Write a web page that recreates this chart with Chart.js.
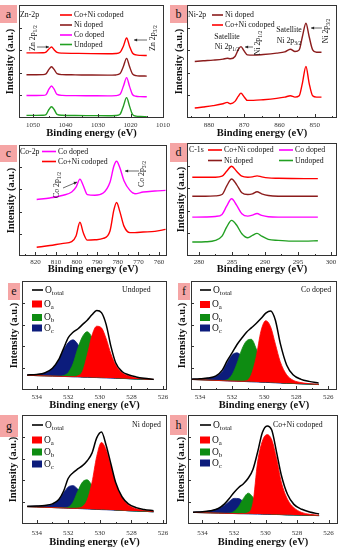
<!DOCTYPE html>
<html>
<head>
<meta charset="utf-8">
<title>XPS spectra</title>
<script src="https://cdn.jsdelivr.net/npm/chart.js@4.4.1/dist/chart.umd.min.js"></script>
<style>
  html, body { margin: 0; padding: 0; background: #fff; }
  #fig { position: relative; width: 341px; height: 550px; overflow: hidden; }
  #fig canvas { position: absolute; }
  .tag { position: absolute; background: #f5a5a5; color: #111; font: 12px 'Liberation Serif', serif; text-align: center; }
</style>
</head>
<body>
<div id="fig"></div>
<script>
// ---- Zn-2p (panel a) ----
const znEnergy = [1052, 1049, 1047, 1046, 1045.1, 1044.3, 1043.5, 1042.6, 1041, 1037, 1032, 1027, 1024.5, 1023.2, 1022.2, 1021.2, 1020.3, 1019.4, 1018.3, 1017, 1015]
const znCoNi = [57.6, 57.6, 57.7, 58.3, 61, 62.8, 60.5, 58, 57.4, 57.2, 57, 56.9, 57.1, 58.2, 63.5, 70.8, 63.5, 57.5, 55.8, 55.4, 55.3]
const znNi = [38.3, 38.3, 38.4, 39.0, 43, 45.4, 43, 39.2, 38.4, 38.2, 38.0, 37.9, 38.1, 39.3, 45.5, 52.8, 45.5, 39, 37.5, 37.2, 37.1]
const znCo = [19.9, 19.9, 20, 20.6, 25.5, 28.3, 25.5, 20.8, 20, 19.8, 19.7, 19.6, 19.8, 21, 28, 35.7, 28, 20.8, 19.2, 18.9, 18.8]
const znUndoped = [2.3, 2.3, 2.4, 3.0, 7.5, 10, 7.5, 3.2, 2.4, 2.2, 2.1, 2.0, 2.2, 3.4, 10.5, 18, 10.5, 3.2, 1.6, 1.3, 1.2]
const znTicks = [1050, 1040, 1030, 1020, 1010]

// ---- Ni-2p (panel b) ----
const niEnergy = [884, 881.6, 878.8, 876, 874.8, 873.9, 872.6, 871.7, 870.9, 870.1, 869.1, 867.4, 864.6, 860.8, 858.5, 856.9, 855.6, 854.4, 853.5, 852.5, 851.6, 850.6, 849.5, 848.1]
const niNi = [50.0, 50.6, 51.2, 52.1, 52.9, 52.4, 54.4, 60.3, 63.2, 59.7, 55.9, 55.6, 56.2, 57.4, 58.5, 60.9, 58.8, 60.3, 72.1, 83.8, 72.1, 60.3, 58.2, 58.2]
const niCoNi = [8.8, 9.7, 10.9, 12.6, 13.8, 12.6, 14.7, 19.1, 22, 19.1, 15.6, 15.6, 16.2, 17.4, 18.5, 19.7, 18.5, 19.7, 30.9, 45.6, 30.9, 19.7, 18.5, 18.5]
const niTicks = [880, 870, 860, 850]

// ---- Co-2p (panel c) ----
const coEnergy = [819.4, 813, 806.5, 802.4, 800.3, 798.4, 796.8, 794.8, 791.1, 787.1, 783.8, 781.9, 780.6, 779, 777, 774.1, 771.7, 767.7, 762, 756.8]
const coCo = [50.9, 52.3, 54.7, 57.6, 62, 69.3, 63.5, 55.3, 54.7, 56.7, 66.4, 81, 85.4, 79.5, 67.8, 59.1, 56.1, 57.6, 58.5, 59.1]
const coCoNi = [7.9, 9.4, 11.4, 12.9, 18.1, 30.4, 21.1, 14.3, 14.6, 15.8, 22.5, 41.5, 48.2, 40, 26.9, 21.1, 21.1, 21.6, 22.2, 24]
const coTicks = [820, 810, 800, 790, 780, 770, 760]

// ---- C-1s (panel d) ----
const cEnergy = [279, 281, 282.5, 283.5, 284.2, 284.95, 285.7, 286.5, 287.4, 288.1, 288.8, 289.5, 290.5, 292, 294, 296, 298]
const cCoNi = [69.7, 69.7, 69.7, 70.6, 75, 79.4, 75, 70.6, 69.7, 70, 70.9, 70, 69.1, 68.8, 68.6, 68.5, 68.5]
const cNi = [52.9, 52.9, 53.2, 54.4, 61.8, 68.2, 63.2, 55.9, 54.4, 55, 56.8, 55, 53.5, 52.9, 52.9, 52.9, 52.9]
const cCo = [34.4, 34.5, 35, 36.8, 44.1, 50.6, 45, 37.4, 35.3, 36.2, 37.6, 35.9, 34.7, 34.4, 34.4, 34.4, 34.4]
const cUndoped = [12.4, 12.6, 13.8, 17.6, 25.6, 31.5, 27.4, 19.7, 16.2, 18.2, 20, 17.6, 14.7, 13.8, 13.2, 13.2, 13.5]
const cTicks = [280, 285, 290, 295, 300]

// ---- O-1s fits (panels e-h) ----
const oEnergy = [534.6, 534.0, 533.5, 533.0, 532.6, 532.3, 532.0, 531.7, 531.4, 531.1, 530.8, 530.5, 530.2, 529.9, 529.6, 529.3, 529.0, 528.6, 528.2, 527.7, 527.2, 526.6]
const oTicks = [534, 532, 530, 528, 526]

const oUndTotal = [13.8, 14.3, 15.6, 20, 28, 38, 48, 53, 56, 60, 64, 69, 73, 71, 60, 40, 25, 17, 14, 12, 10.8, 9.9]
const oUndA = [13.5, 13.2, 13.0, 12.8, 12.6, 12.4, 12.3, 12.3, 13, 17, 32, 50, 58.5, 57, 47, 33, 23, 16, 13, 11, 10.2, 9.7]
const oUndB = [13.5, 13.2, 13.0, 12.8, 12.7, 13.2, 16, 24, 38, 49, 53.5, 48, 36, 23, 15.5, 12.5, 11.3, 10.8, 10.4, 10.1, 9.9, 9.6]
const oUndC = [13.8, 14.2, 15.5, 19.8, 27.4, 36.4, 43.5, 46, 42, 34, 26, 19.5, 15.5, 13.4, 12.3, 11.5, 11.1, 10.8, 10.5, 10.1, 9.9, 9.6]
const oUndBg = [13.5, 13.2, 13.0, 12.8, 12.6, 12.4, 12.3, 12.1, 12.0, 11.8, 11.7, 11.5, 11.4, 11.2, 11.1, 10.9, 10.8, 10.6, 10.4, 10.1, 9.9, 9.6]

const oCoTotal = [9.9, 10.3, 11, 13, 18.5, 27, 34, 41.5, 47.5, 53, 57, 61, 65.5, 70.5, 72.5, 64, 43, 23, 14, 9.8, 7.9, 6.3]
const oCoA = [9.7, 9.4, 9.1, 8.8, 8.6, 8.4, 8.2, 8.1, 8.0, 8.5, 14, 30, 54, 63.6, 58, 42, 26, 14, 9, 6.8, 5.8, 5.2]
const oCoB = [9.7, 9.4, 9.1, 8.8, 8.7, 9.5, 14, 24, 37, 45, 46.5, 38, 25, 15, 9.5, 7.5, 6.8, 6.3, 6.0, 5.7, 5.4, 5.0]
const oCoC = [9.9, 10.0, 10.9, 12.5, 17, 25, 32, 34.1, 31, 24, 16.5, 12.4, 9.7, 8.2, 7.4, 6.9, 6.6, 6.2, 6.0, 5.7, 5.4, 5.0]
const oCoBg = [9.7, 9.4, 9.1, 8.8, 8.6, 8.4, 8.2, 8.1, 7.9, 7.7, 7.5, 7.4, 7.2, 7.0, 6.8, 6.6, 6.5, 6.2, 6.0, 5.7, 5.4, 5.0]

const oNiTotal = [16.2, 16.5, 17, 18.5, 22.5, 30, 42, 47, 50.5, 53.5, 58, 65, 79, 84.5, 72, 55, 38, 25, 18.5, 15, 13.3, 12.2]
const oNiA = [15.9, 15.6, 15.3, 15.1, 14.9, 14.7, 14.5, 14.4, 14.6, 16, 22, 38, 62, 74.8, 68, 53, 37, 24, 17.5, 14, 12.4, 11.5]
const oNiB = [15.9, 15.6, 15.3, 15.1, 14.9, 14.8, 15.5, 20, 30, 38.5, 40.5, 35, 26, 19, 15.5, 13.8, 13, 12.6, 12.2, 11.9, 11.6, 11.2]
const oNiC = [16.1, 16.4, 16.8, 18.2, 22, 28.5, 34, 35.2, 32, 27, 22, 18.6, 16.4, 15.0, 14.1, 13.4, 13.0, 12.6, 12.2, 11.9, 11.6, 11.2]
const oNiBg = [15.9, 15.6, 15.3, 15.1, 14.9, 14.7, 14.5, 14.3, 14.2, 14.0, 13.8, 13.6, 13.4, 13.2, 13.1, 12.9, 12.7, 12.5, 12.2, 11.9, 11.6, 11.2]

const oCoNiTotal = [10.8, 11.2, 12.2, 14.2, 18.5, 23.4, 29, 33.5, 37, 42, 50, 66, 84, 90, 86, 66, 45, 27, 18, 13.5, 11, 9.2]
const oCoNiA = [10.6, 10.4, 10.2, 10.0, 9.8, 9.7, 9.6, 9.5, 9.6, 10.5, 19, 57, 76, 82, 77, 60, 38.5, 22.5, 15, 10.6, 8.9, 8.1]
const oCoNiB = [10.6, 10.4, 10.2, 10.0, 9.8, 10.0, 11.5, 16, 23.5, 28.3, 24.5, 17, 12.5, 10.4, 9.4, 8.9, 8.6, 8.4, 8.3, 8.1, 7.9, 7.7]
const oCoNiC = [10.8, 11.2, 12.0, 14.0, 17.3, 20.7, 23.5, 23.3, 20.4, 17.3, 14.4, 12.3, 10.9, 10.0, 9.4, 9.0, 8.75, 8.4, 8.3, 8.1, 7.9, 7.7]
const oCoNiBg = [10.6, 10.4, 10.2, 10.0, 9.8, 9.7, 9.6, 9.5, 9.4, 9.3, 9.2, 9.1, 9.0, 8.9, 8.8, 8.7, 8.6, 8.4, 8.3, 8.1, 7.9, 7.7]

// ---- styles ----
const SERIF = "'Liberation Serif', 'Times New Roman', serif"
const RED = '#ff0000'
const BROWN = '#8b1c1c'
const PINK = '#ff00ff'
const GREEN = '#22a022'
const O_RED = '#ff0000'
const O_GREEN = '#0e8c12'
const O_NAVY = '#0c1c7c'

Chart.defaults.font.family = SERIF

function pts (xs, ys) { return xs.map((x, i) => ({ x, y: ys[i] })) }

function trace (label, xs, ys, color, width = 1.4) {
  return { label, data: pts(xs, ys), borderColor: color, backgroundColor: color, borderWidth: width, pointRadius: 0, cubicInterpolationMode: 'monotone', fill: false }
}

// fitted O 1s: total line, three filled components down to the background (dataset 4)
function oSets (total, a, b, c, bg) {
  return [
    trace('Ototal', oEnergy, total, '#000', 1.5),
    { ...trace('Oa', oEnergy, a, O_RED, 0.8), fill: 4 },
    { ...trace('Ob', oEnergy, b, O_GREEN, 0.8), fill: 4 },
    { ...trace('Oc', oEnergy, c, O_NAVY, 0.8), fill: 4 },
    trace('background', oEnergy, bg, O_NAVY, 1)
  ]
}

function oKeys (x, ys, name, nameX) {
  return [
    { mark: 'line', color: '#000', x, w: 11, y: ys[0], text: 'O_{total}', size: 9.5 },
    { mark: 'box', color: O_RED, x, w: 10, h: 7, y: ys[1], text: 'O_{a}', size: 9.5 },
    { mark: 'box', color: O_GREEN, x, w: 10, h: 7, y: ys[2], text: 'O_{b}', size: 9.5 },
    { mark: 'box', color: O_NAVY, x, w: 10, h: 7, y: ys[3], text: 'O_{c}', size: 9.5 },
    { x: nameX, y: ys[0], text: name }
  ]
}

// text with _{subscript} parts
function rich (ctx, s, x, y, size, align) {
  const parts = s.split(/_\{([^}]*)\}/)
  const fontOf = i => (i % 2 ? size * 0.72 : size) + 'px ' + SERIF
  let w = 0
  parts.forEach((p, i) => { ctx.font = fontOf(i); w += ctx.measureText(p).width })
  let cx = align === 'center' ? x - w / 2 : x
  ctx.textAlign = 'left'
  parts.forEach((p, i) => {
    ctx.font = fontOf(i)
    ctx.fillText(p, cx, i % 2 ? y + size * 0.3 : y)
    cx += ctx.measureText(p).width
  })
}

function arrow (ctx, x1, y1, x2, y2) {
  const a = Math.atan2(y2 - y1, x2 - x1)
  const h = 3.5
  ctx.lineWidth = 0.8
  ctx.beginPath(); ctx.moveTo(x1, y1); ctx.lineTo(x2, y2); ctx.stroke()
  ctx.beginPath(); ctx.moveTo(x2, y2)
  ctx.lineTo(x2 - h * Math.cos(a - 0.45), y2 - h * Math.sin(a - 0.45))
  ctx.lineTo(x2 - h * Math.cos(a + 0.45), y2 - h * Math.sin(a + 0.45))
  ctx.closePath(); ctx.fill()
}

// box around the plot with inward ticks
const framePlugin = {
  id: 'frame',
  afterDatasetsDraw (chart) {
    const { ctx, chartArea: ca, scales: { x, y } } = chart
    ctx.save()
    ctx.strokeStyle = '#333'
    ctx.lineWidth = 1
    ctx.strokeRect(ca.left + 0.5, ca.top + 0.5, ca.width - 1, ca.height - 1)
    ctx.beginPath()
    const vals = x.ticks.map(t => t.value)
    const step = Math.abs(vals[1] - vals[0])
    const lo = Math.min(x.min, x.max)
    const hi = Math.max(x.min, x.max)
    for (let v = Math.min(...vals) - step; v <= Math.max(...vals) + step; v += step / 2) {
      if (v <= lo || v >= hi) continue
      const px = Math.round(x.getPixelForValue(v)) + 0.5
      ctx.moveTo(px, ca.bottom)
      ctx.lineTo(px, ca.bottom - (vals.includes(v) ? 4 : 2))
    }
    y.ticks.forEach(t => {
      if (t.value <= y.min || t.value >= y.max) return
      const py = Math.round(y.getPixelForValue(t.value)) + 0.5
      ctx.moveTo(ca.left, py); ctx.lineTo(ca.left + 3, py)
    })
    ctx.stroke()
    ctx.restore()
  }
}

// legends, labels and arrows, given in page coordinates
const overlayPlugin = {
  id: 'overlay',
  afterDraw (chart, args, o) {
    if (!o.items) return
    const ctx = chart.ctx
    ctx.save()
    ctx.translate(-o.ox, -o.oy)
    ctx.textBaseline = 'middle'
    o.items.forEach(it => {
      ctx.fillStyle = '#222'
      ctx.strokeStyle = '#444'
      if (it.arrow) { arrow(ctx, ...it.arrow); return }
      let tx = it.x
      if (it.mark === 'line') {
        ctx.strokeStyle = it.color; ctx.lineWidth = 1.6
        ctx.beginPath(); ctx.moveTo(it.x, it.y); ctx.lineTo(it.x + it.w, it.y); ctx.stroke()
        tx = it.x + it.w + 2
      } else if (it.mark === 'box') {
        ctx.fillStyle = it.color
        ctx.fillRect(it.x, it.y - it.h / 2, it.w, it.h)
        tx = it.x + it.w + 2
      }
      ctx.fillStyle = '#111'
      ctx.save()
      ctx.translate(tx, it.y)
      if (it.rot) ctx.rotate(-Math.PI / 2)
      rich(ctx, it.text, 0, 0, it.size || 7.8, it.align || (it.rot ? 'center' : 'left'))
      ctx.restore()
    })
    ctx.restore()
  }
}

const PANELS = [
  { tag: 'a', tagBox: [0, 5, 17, 18], box: [0, 0, 170, 140], area: [19, 5, 164, 118], tickY: 125, titleY: 133, yTitleX: 10,
    range: [1009.7, 1054.3], reverse: true, ticks: znTicks,
    sets: [trace('Co+Ni codoped', znEnergy, znCoNi, RED), trace('Ni doped', znEnergy, znNi, BROWN), trace('Co doped', znEnergy, znCo, PINK), trace('Undoped', znEnergy, znUndoped, GREEN)],
    marks: [
      { x: 20, y: 15, text: 'Zn-2p' },
      { mark: 'line', color: RED, x: 60, w: 12, y: 15, text: 'Co+Ni codoped' },
      { mark: 'line', color: BROWN, x: 60, w: 12, y: 25, text: 'Ni doped' },
      { mark: 'line', color: PINK, x: 60, w: 12, y: 35, text: 'Co doped' },
      { mark: 'line', color: GREEN, x: 60, w: 12, y: 44.5, text: 'Undoped' },
      { x: 33, y: 38, rot: true, text: 'Zn 2p_{1/2}' },
      { arrow: [37, 47, 49, 47] },
      { x: 153, y: 38, rot: true, text: 'Zn 2p_{3/2}' },
      { arrow: [147, 40, 134, 40] }
    ] },
  { tag: 'b', tagBox: [170, 5, 17, 18], box: [170, 0, 171, 140], area: [187, 5, 337, 118], tickY: 125, titleY: 133, yTitleX: 179,
    range: [843.7, 886.2], reverse: true, ticks: niTicks,
    sets: [trace('Ni doped', niEnergy, niNi, BROWN), trace('Co+Ni codoped', niEnergy, niCoNi, RED)],
    marks: [
      { x: 188, y: 15, text: 'Ni-2p' },
      { mark: 'line', color: BROWN, x: 212, w: 11, y: 15, text: 'Ni doped' },
      { mark: 'line', color: RED, x: 212, w: 11, y: 25, text: 'Co+Ni codoped' },
      { x: 227, y: 37, text: 'Satellite', align: 'center' },
      { x: 227, y: 47, text: 'Ni 2p_{1/2}', align: 'center' },
      { x: 258, y: 43, rot: true, text: 'Ni 2p_{1/2}' },
      { arrow: [253, 47, 245, 47] },
      { x: 289, y: 30, text: 'Satellite', align: 'center' },
      { x: 289, y: 41, text: 'Ni 2p_{3/2}', align: 'center' },
      { x: 326, y: 31, rot: true, text: 'Ni 2p_{3/2}' },
      { arrow: [322, 28, 311, 28] }
    ] },
  { tag: 'c', tagBox: [0, 145, 17, 17], box: [0, 137, 170, 140], area: [19, 145, 167, 256], tickY: 262, titleY: 269.5, yTitleX: 11,
    range: [756.1, 828], reverse: true, ticks: coTicks,
    sets: [trace('Co doped', coEnergy, coCo, PINK), trace('Co+Ni codoped', coEnergy, coCoNi, RED)],
    marks: [
      { x: 20, y: 151.5, text: 'Co-2p' },
      { mark: 'line', color: PINK, x: 42, w: 14, y: 151.5, text: 'Co doped' },
      { mark: 'line', color: RED, x: 42, w: 14, y: 161.5, text: 'Co+Ni codoped' },
      { x: 57, y: 185, rot: true, text: 'Co 2p_{1/2}' },
      { arrow: [63, 188, 77, 182] },
      { x: 142, y: 174, rot: true, text: 'Co 2p_{3/2}' },
      { arrow: [139, 171, 125, 171] }
    ] },
  { tag: 'd', tagBox: [170, 143, 17, 19], box: [170, 137, 171, 140], area: [187, 143, 337, 256], tickY: 262, titleY: 269.5, yTitleX: 181,
    range: [278.2, 300.9], reverse: false, ticks: cTicks,
    sets: [trace('Co+Ni codoped', cEnergy, cCoNi, RED), trace('Ni doped', cEnergy, cNi, BROWN), trace('Co doped', cEnergy, cCo, PINK), trace('Undoped', cEnergy, cUndoped, GREEN)],
    marks: [
      { x: 189, y: 150, text: 'C-1s' },
      { mark: 'line', color: RED, x: 208, w: 14, y: 150, text: 'Co+Ni codoped' },
      { mark: 'line', color: PINK, x: 279, w: 14, y: 150, text: 'Co doped' },
      { mark: 'line', color: BROWN, x: 208, w: 14, y: 160.5, text: 'Ni doped' },
      { mark: 'line', color: GREEN, x: 279, w: 14, y: 160.5, text: 'Undoped' }
    ] },
  { tag: 'e', tagBox: [8, 283, 12, 17], box: [0, 275, 170, 138], area: [22, 281, 167, 390], tickY: 396.7, titleY: 405.7, yTitleX: 14,
    range: [525.75, 534.93], reverse: true, ticks: oTicks,
    sets: oSets(oUndTotal, oUndA, oUndB, oUndC, oUndBg),
    marks: oKeys(32, [290, 304, 317.5, 328], 'Undoped', 122) },
  { tag: 'f', tagBox: [178, 283, 12, 17], box: [170, 275, 171, 138], area: [191, 281, 337, 390], tickY: 396.7, titleY: 405.7, yTitleX: 182.5,
    range: [525.46, 534.56], reverse: true, ticks: oTicks,
    sets: oSets(oCoTotal, oCoA, oCoB, oCoC, oCoBg),
    marks: oKeys(200, [290, 304.5, 317.5, 328], 'Co doped', 301) },
  { tag: 'g', tagBox: [0, 415, 18, 22], box: [0, 410, 170, 140], area: [22, 415, 167, 524], tickY: 533, titleY: 542, yTitleX: 13,
    range: [525.75, 534.93], reverse: true, ticks: oTicks,
    sets: oSets(oNiTotal, oNiA, oNiB, oNiC, oNiBg),
    marks: oKeys(32, [425, 440, 452, 464], 'Ni doped', 132) },
  { tag: 'h', tagBox: [170, 415, 17, 20], box: [170, 410, 171, 140], area: [188, 415, 338, 524], tickY: 533, titleY: 542, yTitleX: 181,
    range: [525.40, 534.92], reverse: true, ticks: oTicks,
    sets: oSets(oCoNiTotal, oCoNiA, oCoNiB, oCoNiC, oCoNiBg),
    marks: oKeys(200, [425, 440, 452, 463], 'Co+Ni codoped', 273) }
]

const fig = document.getElementById('fig')
const TICK_FONT = { size: 7, family: SERIF }
const TITLE_FONT = { size: 10.5, weight: 'bold', family: SERIF }

PANELS.forEach(p => {
  const [bl, bt, bw, bh] = p.box
  const [ax0, ay0, ax1, ay1] = p.area
  const cv = document.createElement('canvas')
  cv.width = bw; cv.height = bh
  cv.style.left = bl + 'px'; cv.style.top = bt + 'px'
  fig.appendChild(cv)

  new Chart(cv, {
    type: 'line',
    data: { datasets: p.sets },
    options: {
      responsive: false, animation: false, events: [],
      layout: { padding: { left: 0, top: ay0 - bt, right: bl + bw - ax1, bottom: 0 } },
      scales: {
        x: {
          type: 'linear', min: p.range[0], max: p.range[1], reverse: p.reverse,
          afterBuildTicks: s => { s.ticks = p.ticks.map(value => ({ value })) },
          afterFit: s => { s.height = bt + bh - ay1; s.paddingLeft = 0; s.paddingRight = 0 },
          grid: { display: false, drawTicks: false }, border: { display: false },
          ticks: { autoSkip: false, maxRotation: 0, padding: p.tickY - ay1 - 4.2, color: '#333', font: TICK_FONT, callback: v => String(v) },
          title: { display: true, text: 'Binding energy (eV)', color: '#111', font: TITLE_FONT, padding: { top: 0, bottom: bt + bh - p.titleY - 6.3 } }
        },
        y: {
          min: 0, max: 100,
          afterFit: s => { s.width = ax0 - bl },
          grid: { display: false, drawTicks: false }, border: { display: false },
          ticks: { display: false, stepSize: 20 },
          title: { display: true, text: 'Intensity (a.u.)', color: '#111', font: TITLE_FONT, padding: { top: p.yTitleX - bl - 6.3, bottom: 0 } }
        }
      },
      plugins: {
        legend: { display: false },
        tooltip: { enabled: false },
        overlay: { ox: bl, oy: bt, items: p.marks }
      }
    },
    plugins: [framePlugin, overlayPlugin]
  })

  const [tx, ty, tw, th] = p.tagBox
  const tag = document.createElement('div')
  tag.className = 'tag'
  tag.textContent = p.tag
  Object.assign(tag.style, { left: tx + 'px', top: ty + 'px', width: tw + 'px', height: th + 'px', lineHeight: th + 'px' })
  fig.appendChild(tag)
})
</script>
</body>
</html>
